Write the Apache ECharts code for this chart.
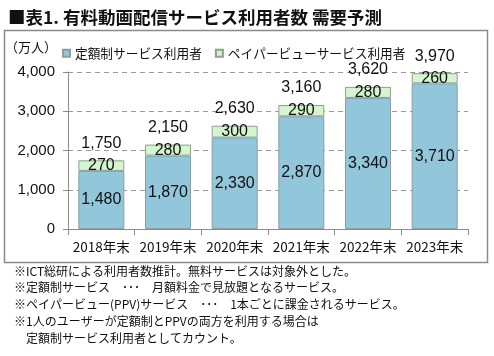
<!DOCTYPE html>
<html><head><meta charset="utf-8">
<script src="https://cdn.jsdelivr.net/npm/echarts@6/dist/echarts.min.js"></script>
<style>html,body{margin:0;padding:0;background:#fff}#c{width:494px;height:356px}</style>
</head><body><div id="c"></div>
<script>
const categories = ['2018年末','2019年末','2020年末','2021年末','2022年末','2023年末'];
const subscription = [1480,1870,2330,2870,3340,3710];
const payPerView = [270,280,300,290,280,260];
const totals = [1750,2150,2630,3160,3620,3970];
const yTicks = [0,1000,2000,3000,4000];
const notes = [
  '※ICT総研による利用者数推計。無料サービスは対象外とした。',
  '※定額制サービス　･･･　月額料金で見放題となるサービス。',
  '※ペイパービュー(PPV)サービス　･･･　1本ごとに課金されるサービス。',
  '※1人のユーザーが定額制とPPVの両方を利用する場合は',
  '　定額制サービス利用者としてカウント。'
];
const FONT = '"Noto Sans CJK JP", "Liberation Sans", sans-serif';
const NUMFONT = '"Liberation Sans", sans-serif';
const fmt = v => v.toLocaleString('en-US');
const chart = echarts.init(document.getElementById('c'), null, {renderer:'canvas'});
const noteGraphics = notes.map((t,i)=>({
  type:'text', left:14, top:265 + i*16.8,
  style:{text:t, font:'12px "Noto Sans CJK JP", sans-serif', fill:'#111'}
}));
chart.setOption({
  animation:false,
  textStyle:{fontFamily:FONT},
  title:{text:'■表1. 有料動画配信サービス利用者数 需要予測', left:3, top:4,
    textStyle:{fontSize:17.5, fontWeight:'bold', color:'#111', fontFamily:FONT}},
  graphic:[
    {type:'rect', shape:{x:4.5,y:30.5,width:483,height:232}, style:{fill:'none', stroke:'#8a8a8a', lineWidth:1.5}, silent:true},
    {type:'text', left:5, top:41, style:{text:'（万人）', font:'13px "Noto Sans CJK JP", sans-serif', fill:'#111'}},
    ...noteGraphics
  ],
  legend:{left:57, top:42, itemWidth:7, itemHeight:7, itemGap:13, icon:'rect',
    data:['定額制サービス利用者','ペイパービューサービス利用者'],
    textStyle:{fontSize:12.7, color:'#111', fontFamily:FONT}},
  grid:{left:68, right:26, top:72, bottom:127},
  xAxis:{type:'category', data:categories,
    axisLine:{lineStyle:{color:'#8c8c8c'}},
    axisTick:{show:true, length:6, lineStyle:{color:'#8c8c8c'}},
    axisLabel:{interval:0, fontSize:13.5, color:'#111', margin:11, fontFamily:FONT}},
  yAxis:{type:'value', min:yTicks[0], max:yTicks[yTicks.length-1], interval:1000,
    axisLine:{show:true, lineStyle:{color:'#8c8c8c'}},
    axisTick:{show:true, length:5, lineStyle:{color:'#8c8c8c'}},
    splitLine:{lineStyle:{color:'#9a9a9a', type:[5,4]}},
    axisLabel:{fontSize:15, color:'#111', margin:13, formatter:v=>fmt(v), fontFamily:NUMFONT}},
  series:[
    {name:'定額制サービス利用者', type:'bar', stack:'s', barWidth:46, data:subscription,
      itemStyle:{color:'#92c6da', borderColor:'#8a9ea4', borderWidth:1},
      label:{show:true, position:'inside', fontSize:16, color:'#111', formatter:p=>fmt(p.value), fontFamily:NUMFONT}},
    {name:'ペイパービューサービス利用者', type:'bar', stack:'s', barWidth:46, data:payPerView,
      itemStyle:{color:'#d5f5cf', borderColor:'#8fa08f', borderWidth:1},
      label:{show:true, position:'inside', fontSize:16, color:'#111', formatter:p=>fmt(p.value), fontFamily:NUMFONT}},
    {name:'total', type:'line', data:totals, symbol:'circle', symbolSize:2, showSymbol:true,
      itemStyle:{color:'rgba(0,0,0,0)'}, lineStyle:{width:0, opacity:0}, silent:true,
      label:{show:true, position:'top', distance:8, fontSize:16, color:'#111', formatter:p=>fmt(p.value), fontFamily:NUMFONT}}
  ]
});
</script></body></html>
